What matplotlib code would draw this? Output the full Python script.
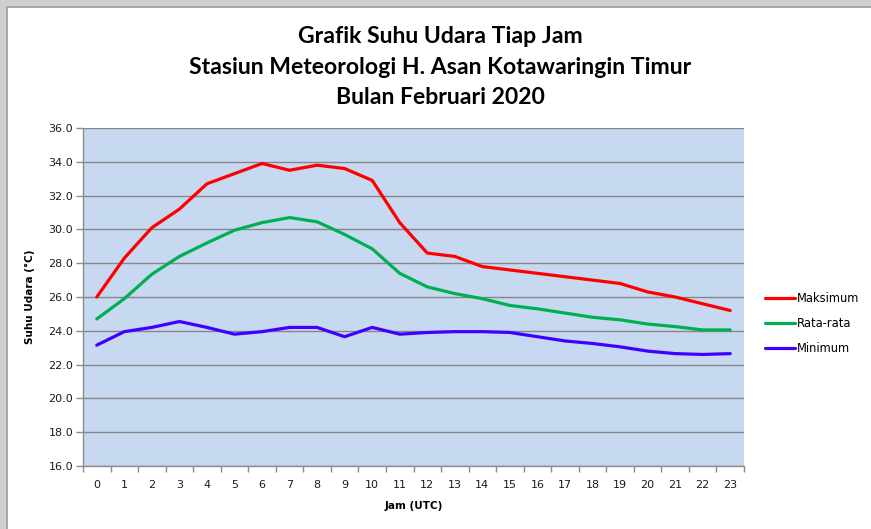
import matplotlib.pyplot as plt
from matplotlib.patches import Rectangle
import numpy as np

# data
jam = list(range(24))
maksimum = [26.0, 28.3, 30.1, 31.2, 32.7, 33.3, 33.9, 33.5, 33.8, 33.6, 32.9, 30.4,
            28.6, 28.4, 27.8, 27.6, 27.4, 27.2, 27.0, 26.8, 26.3, 26.0, 25.6, 25.2]
rata_rata = [24.7, 25.9, 27.35, 28.4, 29.2, 29.95, 30.4, 30.7, 30.45, 29.7, 28.85, 27.4,
             26.6, 26.2, 25.9, 25.5, 25.3, 25.05, 24.8, 24.65, 24.4, 24.25, 24.05, 24.05]
minimum = [23.15, 23.95, 24.2, 24.55, 24.2, 23.8, 23.95, 24.2, 24.2, 23.65, 24.2, 23.8,
           23.9, 23.95, 23.95, 23.9, 23.65, 23.4, 23.25, 23.05, 22.8, 22.65, 22.6, 22.65]
y_ticks = np.arange(16, 36.1, 2)

fig = plt.figure(figsize=(8.71, 5.29), dpi=100)
fig.patch.set_facecolor('white')

# grey shadow frame on top / left edge
W, H = 871, 529
fig.patches.append(Rectangle((0, (H - 8) / H), 1, 8 / H, transform=fig.transFigure,
                             facecolor='#cfcfcf', edgecolor='none', zorder=0))
fig.patches.append(Rectangle((0, 0), 8 / W, 1, transform=fig.transFigure,
                             facecolor='#cfcfcf', edgecolor='none', zorder=0))
fig.patches.append(Rectangle((6 / W, 0), 2 / W, (H - 6) / H, transform=fig.transFigure,
                             facecolor='#a8a8a8', edgecolor='none', zorder=0))
fig.patches.append(Rectangle((6 / W, (H - 8) / H), 1 - 6 / W, 2 / H, transform=fig.transFigure,
                             facecolor='#a8a8a8', edgecolor='none', zorder=0))

ax = fig.add_axes([83 / W, 63 / H, 661 / W, 338 / H])
ax.set_facecolor('#c6d9f0')

ax.plot(jam, maksimum, color='#ff0000', lw=2.3, label='Maksimum', solid_capstyle='round')
ax.plot(jam, rata_rata, color='#00b050', lw=2.3, label='Rata-rata', solid_capstyle='round')
ax.plot(jam, minimum, color='#3f00ff', lw=2.3, label='Minimum', solid_capstyle='round')

ax.set_xlim(-0.5, 23.5)
ax.set_ylim(16, 36)
ax.set_yticks(y_ticks)
ax.set_yticklabels([f'{v:.1f}' for v in y_ticks])
ax.set_xticks(jam)
ax.set_xticks(np.arange(-0.5, 24, 1), minor=True)
ax.tick_params(axis='x', which='major', length=0, pad=10, labelsize=8, labelcolor='#1a1a1a')
ax.tick_params(axis='x', which='minor', length=4, color='#8c8c8c', width=1)
ax.tick_params(axis='y', length=5, color='#8c8c8c', width=1, pad=2, labelsize=8,
               labelcolor='#1a1a1a')

ax.grid(axis='y', color='#868686', lw=1)
ax.set_axisbelow(True)
for s in ['top', 'right']:
    ax.spines[s].set_visible(False)
for s in ['left', 'bottom']:
    ax.spines[s].set_color('#8c8c8c')
    ax.spines[s].set_linewidth(1)

ax.set_xlabel('Jam (UTC)', fontsize=7.5, fontweight='bold', labelpad=8)
ax.set_ylabel('Suhu Udara (°C)', fontsize=7.5, fontweight='bold', labelpad=10)

fig.text(440 / W, 1 - 67 / H,
         'Grafik Suhu Udara Tiap Jam\nStasiun Meteorologi H. Asan Kotawaringin Timur\nBulan Februari 2020',
         ha='center', va='center', fontsize=16.6, fontweight='bold', family='Lato',
         linespacing=1.55)

ax.legend(loc='upper left', bbox_to_anchor=(755 / W, 1 - 282 / H), bbox_transform=fig.transFigure,
          frameon=False, fontsize=8.3, handlelength=2.6, handletextpad=0.15, labelspacing=1.03)

fig.savefig('out.png', dpi=100)
